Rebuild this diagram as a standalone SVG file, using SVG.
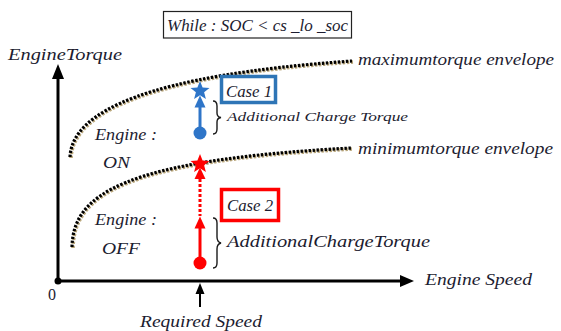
<svg xmlns="http://www.w3.org/2000/svg" width="561" height="331" viewBox="0 0 561 331">
<style>
.t{font-style:italic;fill:#1c1c30}
.ax{stroke:#000;stroke-width:3;fill:none}
.envS{fill:none;stroke:#b9a67a;stroke-width:3.6;stroke-dasharray:2.4 1.6}
.envB{fill:none;stroke:#000;stroke-width:3.2;stroke-dasharray:2.4 1.6}
.br{fill:none;stroke:#1a1a1a;stroke-width:1.4}
</style>
<defs>
<path id="star" d="M0,-10 L2.6,-3.4 L9.5,-3.1 L4.1,1.3 L5.9,8.1 L0,4.2 L-5.9,8.1 L-4.1,1.3 L-9.5,-3.1 L-2.6,-3.4 Z"/>
</defs>
<rect width="561" height="331" fill="#fff"/>
<g font-family="Liberation Serif, Times New Roman, serif">
<g id="condition">
<rect x="163.5" y="11.5" width="188" height="26.5" fill="#fff" stroke="#222" stroke-width="1.2"/>
<text class="t" x="167" y="31" font-size="17" textLength="181" lengthAdjust="spacingAndGlyphs">While : SOC &lt; cs _lo _soc</text>
</g>

<g id="connectors">
<path class="ax" d="M58,281 V70"/>
<path d="M52,79 L58,64 L64,79 Z" fill="#000"/>
<path class="ax" d="M58,281 H402"/>
<path d="M400,275 L414,281 L400,287 Z" fill="#000"/>
<circle cx="58" cy="281" r="3.5" fill="#000"/>
<path d="M200,307 V292" stroke="#000" stroke-width="2"/>
<path d="M195.5,294 L200,283 L204.5,294 Z" fill="#000"/>
</g>

<g id="max-envelope">
<path class="envS" d="M71,158 C73,112 150,76 353,62"/>
<path class="envB" d="M70,157 C72,111 149,75 352,61"/>
<text class="t" x="358" y="65" font-size="17" textLength="196" lengthAdjust="spacingAndGlyphs">maximumtorque envelope</text>
</g>

<g id="min-envelope">
<path class="envS" d="M73,248 C74,196 122,161 353,149"/>
<path class="envB" d="M72,247 C73,195 121,160 352,148"/>
<text class="t" x="358" y="154" font-size="17" textLength="195" lengthAdjust="spacingAndGlyphs">minimumtorque envelope</text>
</g>

<g id="axis-labels">
<text class="t" x="8" y="60" font-size="17" textLength="114" lengthAdjust="spacingAndGlyphs">EngineTorque</text>
<text class="t" x="425" y="285" font-size="17" textLength="107" lengthAdjust="spacingAndGlyphs">Engine Speed</text>
<text class="t" x="140" y="327" font-size="17" textLength="122" lengthAdjust="spacingAndGlyphs">Required Speed</text>
<text x="48" y="300" font-size="16" fill="#1c1c30">0</text>
</g>

<g id="engine-on">
<text class="t" x="95" y="140" font-size="17" textLength="62" lengthAdjust="spacingAndGlyphs">Engine :</text>
<text class="t" x="103" y="168" font-size="17" textLength="27" lengthAdjust="spacingAndGlyphs">ON</text>
</g>

<g id="engine-off">
<text class="t" x="95" y="225" font-size="17" textLength="62" lengthAdjust="spacingAndGlyphs">Engine :</text>
<text class="t" x="102" y="254" font-size="17" textLength="38" lengthAdjust="spacingAndGlyphs">OFF</text>
</g>

<g id="case1" fill="#2e75c8">
<use href="#star" x="200" y="91"/>
<path d="M194.5,107.5 L200,95.5 L205.5,107.5 Z"/>
<path d="M200,107 V133" stroke="#2e75c8" stroke-width="3"/>
<circle cx="200" cy="133" r="6.5"/>
<rect x="221.5" y="76.5" width="54" height="26" fill="#fff" stroke="#2e75b6" stroke-width="3.5"/>
<text class="t" x="226" y="97" font-size="16" textLength="46" lengthAdjust="spacingAndGlyphs">Case 1</text>
<path class="br" d="M213,101 Q217,101 217,106 V113 Q217,117 221,117.5 Q217,118 217,122 V129 Q217,134 213,134"/>
<text class="t" x="227" y="121" font-size="13" textLength="181" lengthAdjust="spacingAndGlyphs">Additional Charge Torque</text>
</g>

<g id="case2" fill="#ff0000">
<use href="#star" x="200" y="164"/>
<path d="M194.5,179 L200,167.5 L205.5,179 Z"/>
<path d="M200,179 V216" stroke="#ff0000" stroke-width="3" stroke-dasharray="3 2"/>
<path d="M194.5,228.5 L200,216.5 L205.5,228.5 Z"/>
<path d="M200,228 V263" stroke="#ff0000" stroke-width="3"/>
<circle cx="200" cy="263" r="6.5"/>
<rect x="221.5" y="189.5" width="57" height="31" fill="#fff" stroke="#ff0000" stroke-width="3.5"/>
<text class="t" x="227" y="211" font-size="16" textLength="46" lengthAdjust="spacingAndGlyphs">Case 2</text>
<path class="br" d="M213,218 Q217,218 217,223 V237 Q217,242 221,243 Q217,244 217,249 V263 Q217,268 213,268"/>
<text class="t" x="227" y="247" font-size="16" textLength="203" lengthAdjust="spacingAndGlyphs">AdditionalChargeTorque</text>
</g>
</g>
</svg>
